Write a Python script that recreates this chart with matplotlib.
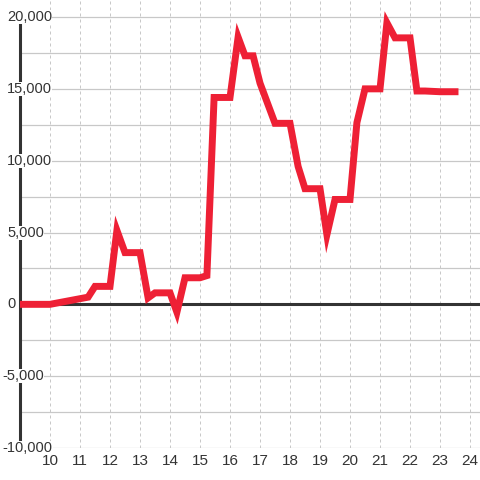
import numpy as np
import matplotlib
matplotlib.use("Agg")
import matplotlib.pyplot as plt
import matplotlib.transforms as mtransforms

# Data
x = [9.0, 10.0, 11.27, 11.5, 12.0, 12.23, 12.5, 13.0, 13.27, 13.5, 14.0, 14.23,
     14.5, 15.0, 15.23, 15.47, 16.0, 16.27, 16.5, 16.77, 17.0, 17.5, 18.0, 18.27,
     18.5, 19.0, 19.23, 19.5, 20.0, 20.23, 20.5, 21.0, 21.23, 21.5, 22.0, 22.23,
     22.5, 23.0, 23.5]
y = [0, 0, 500, 1250, 1250, 5150, 3600, 3600, 450, 800, 800, -550,
     1850, 1850, 2000, 14400, 14400, 18600, 17300, 17300, 15400, 12600, 12600, 9600,
     8050, 8050, 4850, 7300, 7300, 12650, 15000, 15000, 19600, 18550, 18550, 14850,
     14850, 14800, 14800]

x_ticks = list(range(10, 25))
y_grid = list(range(-10000, 20001, 2500))
y_labels = [-10000, -5000, 0, 5000, 10000, 15000, 20000]

plt.rcParams['font.family'] = ['Liberation Sans', 'DejaVu Sans']
W, H = 480, 480
fig = plt.figure(figsize=(4.8, 4.8), dpi=100)
ax = fig.add_axes([20 / W, 32 / H, 460 / W, 448 / H])
ax.set_xlim(9.0, 24.333)
ax.set_ylim(-10000, 21185)
for s in ax.spines.values():
    s.set_visible(False)

grey = '#c8c8c8'
dark = '#333333'
ax.set_yticks(y_grid)
ax.set_xticks(x_ticks)
ax.yaxis.grid(True, color=grey, lw=0.9, zorder=0)
ax.xaxis.grid(True, color=grey, lw=0.72, linestyle=(0, (3, 3)), zorder=0)
ax.set_axisbelow(True)
ax.tick_params(axis='y', left=False, labelleft=False)
ax.tick_params(axis='x', length=0, pad=4.6, labelsize=11, labelcolor=dark)

# axis lines
ax.plot([9, 9], [-10000, 20000], color=dark, lw=2.2, zorder=2, clip_on=False,
        solid_capstyle='butt')
ax.axhline(0, color=dark, lw=2.2, zorder=2)

# y labels with white boxes over grid and axis
trans = mtransforms.blended_transform_factory(fig.transFigure, ax.transData)
for v in y_labels:
    xpos = 7 / W if v >= 0 else 2.5 / W
    ax.text(xpos, v, "{:,}".format(v), transform=trans, ha='left', va='center',
            fontsize=10.5, color=dark, zorder=3, clip_on=False,
            bbox=dict(boxstyle='square,pad=0', fc='white', ec='none'))

ax.plot(x, y, color='#ee2035', lw=5, zorder=4, solid_joinstyle='miter',
        solid_capstyle='projecting')

fig.savefig('out.png', dpi=100)
